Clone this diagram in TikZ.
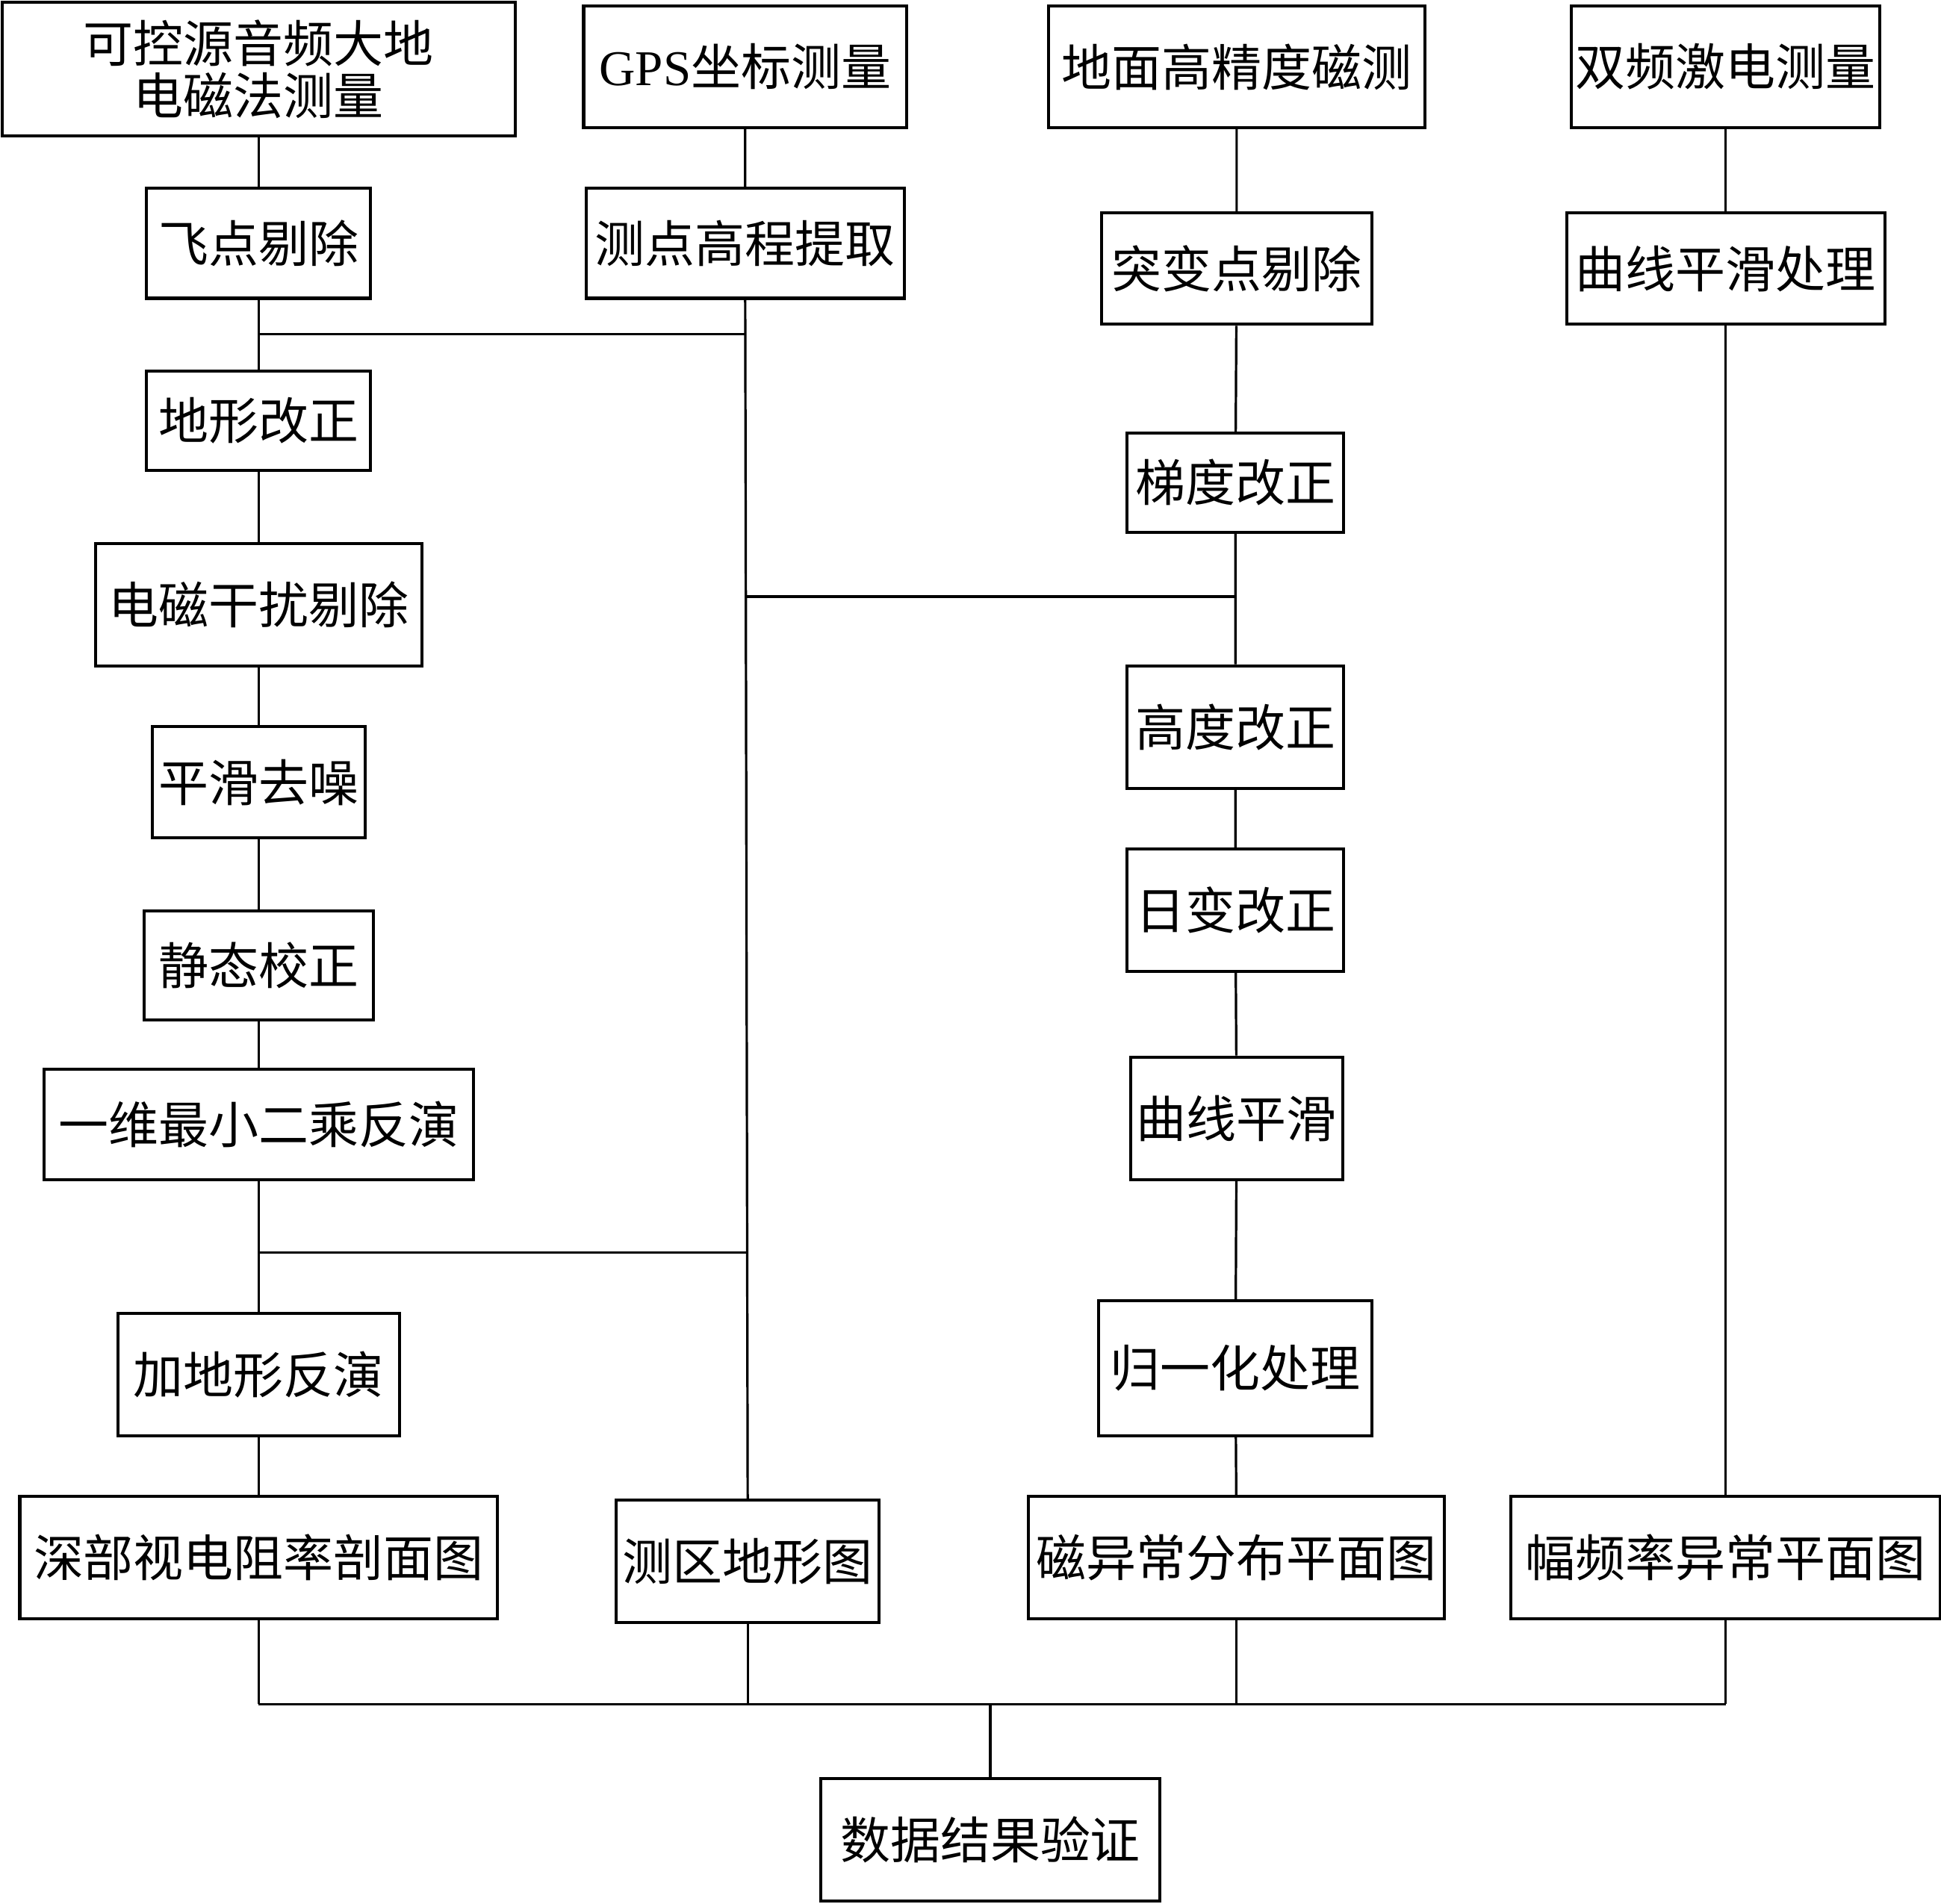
\documentclass[tikz,border=0pt]{standalone}
\usepackage{fontspec}
\setmainfont{Liberation Serif}
\newfontfamily\cjk{Noto Sans CJK SC}
\tikzset{
  box/.style 2 args={draw,line width=1.4pt,inner sep=2pt,align=center,
    minimum width=#1*0.02cm,minimum height=#2*0.02cm,
    font=\cjk\fontsize{23pt}{28pt}\selectfont},
  link/.style={line width=1.1pt}
}
\begin{document}
\begin{tikzpicture}[x=0.02cm,y=-0.02cm]
    \useasboundingbox (0,0) rectangle (1568,1538);

    \node[box={414}{108}] (src) at (209,56) {可控源音频大地\\[-4pt]电磁法测量};
    \node[box={181}{89}] (fd) at (209,196.5) {飞点剔除};
    \node[box={181}{80}] (dx) at (209,340) {地形改正};
    \node[box={264}{99}] (gr) at (209,488.5) {电磁干扰剔除};
    \node[box={172}{90}] (ph) at (209,632) {平滑去噪};
    \node[box={185}{88}] (jt) at (209,780) {静态校正};
    \node[box={347}{89}] (yw) at (209,908.5) {一维最小二乘反演};
    \node[box={227}{99}] (jx) at (209,1110.5) {加地形反演};
    \node[box={386}{99}] (sb) at (209,1258.5) {深部视电阻率剖面图};

    \node[box={261}{98}] (gps) at (602,54) {{\rmfamily GPS}坐标测量};
    \node[box={257}{89}] (gc) at (602,196.5) {测点高程提取};
    \node[box={212}{99}] (cq) at (604,1261.5) {测区地形图};

    \node[box={304}{98}] (cc) at (999,54) {地面高精度磁测};
    \node[box={218}{90}] (tb) at (999,217) {突变点剔除};
    \node[box={175}{80}] (td) at (998,390) {梯度改正};
    \node[box={175}{99}] (gd) at (998,587.5) {高度改正};
    \node[box={175}{99}] (rb) at (998,735.5) {日变改正};
    \node[box={171}{99}] (qx) at (999,903.5) {曲线平滑};
    \node[box={221}{109}] (gy) at (998,1105.5) {归一化处理};
    \node[box={336}{99}] (cy) at (999,1258.5) {磁异常分布平面图};

    \node[box={248}{98}] (jd) at (1394,54) {双频激电测量};
    \node[box={257}{90}] (qh) at (1394,217) {曲线平滑处理};
    \node[box={347}{99}] (ff) at (1394,1258.5) {幅频率异常平面图};

    \node[box={274}{99}] (yz) at (800,1486.5) {数据结果验证};

    \coordinate (a1) at (209,270);
    \coordinate (a2) at (602,270);
    \coordinate (b1) at (602,482);
    \coordinate (b2) at (998,482);
    \coordinate (c1) at (209,1012);
    \coordinate (c2) at (603,1012);
    \coordinate (d1) at (209,1377);
    \coordinate (d2) at (1394,1377);
    \coordinate (d3) at (800,1377);

    \draw[link] (src) -- (fd) (fd) -- (dx) (dx) -- (gr) (gr) -- (ph);
    \draw[link] (ph) -- (jt) (jt) -- (yw) (yw) -- (jx) (jx) -- (sb);
    \draw[link] (gps) -- (gc) (gc.south) -- (cq.north);
    \draw[link] (cc) -- (tb) (tb) -- (td) (td) -- (gd) (gd) -- (rb);
    \draw[link] (rb) -- (qx) (qx) -- (gy) (gy) -- (cy);
    \draw[link] (jd) -- (qh) (qh) -- (ff);
    \draw[link] (a1) -- (a2) (b1) -- (b2) (c1) -- (c2);
    \draw[link] (sb.south) -- (sb.south |- d1) (cq.south) -- (cq.south |- d1);
    \draw[link] (cy.south) -- (cy.south |- d1) (ff.south) -- (ff.south |- d1);
    \draw[link] (d1) -- (d2) (d3) -- (yz);
\end{tikzpicture}
\end{document}
